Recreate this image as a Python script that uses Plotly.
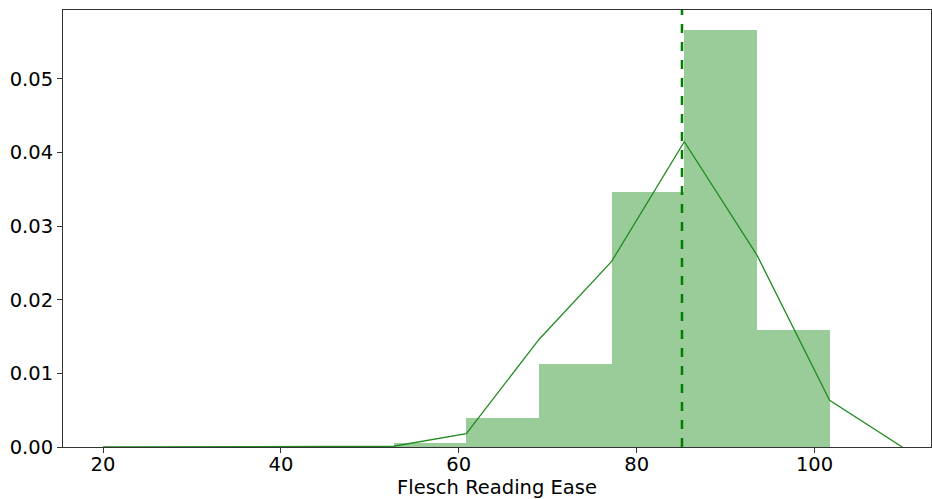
import plotly.graph_objects as go

# Histogram bins (left edges), bin width and density heights
bin_left = [52.68, 60.85, 69.02, 77.19, 85.36, 93.53]
bin_width = 8.17
density = [0.00054, 0.00394, 0.01124, 0.0346, 0.0566, 0.01585]

# Density curve points
curve_x = [20.0, 28.17, 36.34, 44.51, 52.68, 60.85, 69.02, 77.19, 85.36, 93.53, 101.70, 109.87]
curve_y = [0.0, 0.0, 0.0, 0.0, 0.0001, 0.00182, 0.0146, 0.0252, 0.04144, 0.02605, 0.00634, 0.0]

# Mean marker
mean_value = 85.1

x_ticks = [20, 40, 60, 80, 100]
y_ticks = [0.00, 0.01, 0.02, 0.03, 0.04, 0.05]

FONT = "DejaVu Sans"

fig = go.Figure()
fig.add_trace(go.Bar(
    x=bin_left, y=density, width=[bin_width] * len(bin_left), offset=0,
    marker=dict(color="rgba(0,128,0,0.4)", line=dict(width=0)),
    showlegend=False,
))
fig.add_trace(go.Scatter(
    x=curve_x, y=curve_y, mode="lines",
    line=dict(color="#228B22", width=1.3),
    showlegend=False,
))
fig.add_shape(type="line", x0=mean_value, x1=mean_value, y0=0, y1=1,
              xref="x", yref="paper",
              line=dict(color="green", width=2.5, dash="dash"))

fig.update_layout(
    width=932, height=499,
    margin=dict(l=63, r=1, t=10, b=52),
    paper_bgcolor="white", plot_bgcolor="white",
    font=dict(family=FONT, size=19.5, color="black"),
    bargap=0,
)
fig.update_xaxes(
    range=[15.5, 113.1], tickvals=x_ticks, ticktext=[str(v) for v in x_ticks],
    ticks="outside", ticklen=5, tickcolor="#333", ticklabelstandoff=-5,
    showline=True, linecolor="#333", linewidth=1, mirror=True,
    showgrid=False, zeroline=False,
    title=dict(text="Flesch Reading Ease", standoff=2, font=dict(size=19.5)),
)
fig.update_yaxes(
    range=[0, 0.05933], tickvals=y_ticks, ticktext=[f"{v:.2f}" for v in y_ticks],
    ticks="outside", ticklen=5, tickcolor="#333",
    showline=True, linecolor="#333", linewidth=1, mirror=True,
    showgrid=False, zeroline=False,
)

fig.write_html("out.html")
